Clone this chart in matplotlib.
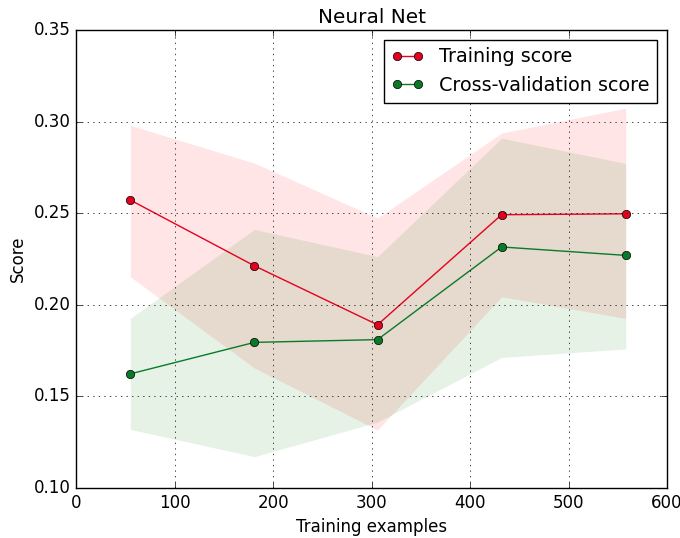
import matplotlib
matplotlib.use("Agg")
import matplotlib.pyplot as plt

plt.style.use("classic")

train_sizes = [55, 181, 306, 432, 558]
train_mean = [0.2572, 0.2213, 0.1891, 0.2492, 0.2497]
train_upper = [0.2980, 0.2774, 0.2474, 0.2938, 0.3074]
train_lower = [0.2153, 0.1655, 0.1317, 0.2044, 0.1926]
cv_mean = [0.1623, 0.1795, 0.1810, 0.2316, 0.2270]
cv_upper = [0.1926, 0.2412, 0.2263, 0.2910, 0.2772]
cv_lower = [0.1320, 0.1171, 0.1360, 0.1713, 0.1759]

RED = "#e6001f"
GREEN = "#0a7a2a"

fig = plt.figure(figsize=(6.8, 5.38), dpi=100, facecolor="white")
ax = fig.add_subplot(111)
fig.subplots_adjust(left=0.112, right=0.981, bottom=0.093, top=0.944)

ax.fill_between(train_sizes, train_lower, train_upper, alpha=0.1, color="r", lw=0)
ax.fill_between(train_sizes, cv_lower, cv_upper, alpha=0.1, color="g", lw=0)
ax.plot(train_sizes, train_mean, "o-", color=RED, label="Training score")
ax.plot(train_sizes, cv_mean, "o-", color=GREEN, label="Cross-validation score")

ax.set_xlim(0, 600); ax.set_ylim(0.10, 0.35)
ax.set_title("Neural Net")
ax.set_xlabel("Training examples"); ax.set_ylabel("Score")
ax.grid(True)
ax.legend(loc="best", prop={"size": 13.8}, handlelength=1.7)

fig.savefig("out.png", facecolor="white")
